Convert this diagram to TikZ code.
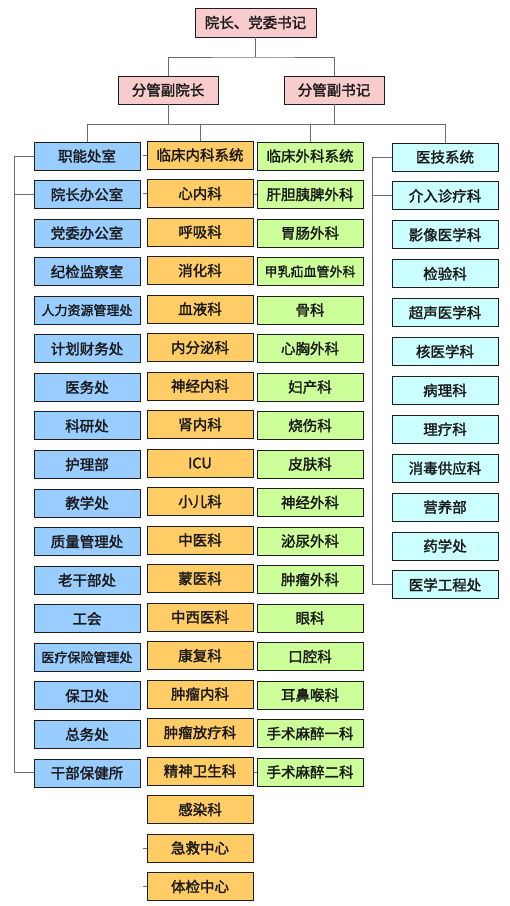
\documentclass[tikz,border=0pt]{standalone}
\usepackage{fontspec}
\newfontfamily\cjk{Noto Sans CJK SC}[FakeBold=1.8]
\newcommand\smallbox{\fontsize{13}{13}\selectfont}
\definecolor{pinkc}{RGB}{248,204,204}
\definecolor{bluec}{RGB}{153,204,255}
\definecolor{orangec}{RGB}{255,204,102}
\definecolor{greenc}{RGB}{204,255,153}
\definecolor{cyanc}{RGB}{204,255,255}
\definecolor{linec}{RGB}{110,110,110}
\definecolor{bordc}{RGB}{30,30,30}
\tikzset{
  box/.style={draw=bordc, line width=0.9pt, minimum width=106pt, minimum height=28pt,
    inner sep=0pt, text=black!90, font=\cjk\fontsize{14.5}{14.5}\selectfont},
  topbox/.style={box, fill=pinkc, minimum width=100pt},
  bluebox/.style={box, fill=bluec},
  orangebox/.style={box, fill=orangec},
  greenbox/.style={box, fill=greenc},
  cyanbox/.style={box, fill=cyanc},
  conn/.style={draw=linec, line width=1pt},
}
\begin{document}
\begin{tikzpicture}[x=1pt,y=-1pt]
\useasboundingbox[fill=white] (0,0) rectangle (510,906);

\node[topbox, minimum width=121pt, minimum height=29pt] (top) at (255.5,22.5) {院长、党委书记};
\node[topbox] (fy) at (168,90) {分管副院长};
\node[topbox] (fs) at (334,90) {分管副书记};

\coordinate (j1) at (255.5,57);
\coordinate (j2) at (255.5,124);
\coordinate (lb) at (14,0);
\coordinate (rb) at (372,0);

% blue column
\foreach \t [count=\i from 0] in {职能处室,院长办公室,党委办公室,纪检监察室,{\smallbox 人力资源管理处},计划财务处,医务处,科研处,护理部,教学处,质量管理处,老干部处,工会,{\smallbox 医疗保险管理处},保卫处,总务处,干部保健所}{
  \node[bluebox] (b\i) at (87,{156+38.56*\i}) {\t};
}
% orange column
\foreach \t [count=\i from 0] in {临床内科系统,心内科,呼吸科,消化科,血液科,内分泌科,神经内科,肾内科,ICU,小儿科,中医科,蒙医科,中西医科,康复科,肿瘤内科,肿瘤放疗科,精神卫生科,感染科,急救中心,体检中心}{
  \node[orangebox] (o\i) at (200,{155+38.5*\i}) {\t};
}
% green column
\foreach \t [count=\i from 0] in {临床外科系统,肝胆胰脾外科,胃肠外科,{\smallbox 甲乳疝血管外科},骨科,心胸外科,妇产科,烧伤科,皮肤科,神经外科,泌尿外科,肿瘤外科,眼科,口腔科,耳鼻喉科,手术麻醉一科,手术麻醉二科}{
  \node[greenbox] (g\i) at (310,{156+38.5*\i}) {\t};
}
% cyan column
\foreach \t [count=\i from 0] in {医技系统,介入诊疗科,影像医学科,检验科,超声医学科,核医学科,病理科,理疗科,消毒供应科,营养部,药学处,医学工程处}{
  \node[cyanbox] (c\i) at (445,{157+38.9*\i}) {\t};
}

% top connectors
\draw[conn] (top.south) -- (j1);
\draw[conn] (fy.north) |- (j1) -| (fs.north);
\draw[conn] (fy.south) -- (fy.south |- j2);
\draw[conn] (fs.south) -- (fs.south |- j2);
\draw[conn] (b0.north) -- (b0.north |- j2) -- (c0.north |- j2) -- (c0.north);
\draw[conn] (o0.north |- j2) -- (o0.north);
\draw[conn] (g0.north |- j2) -- (g0.north);

% left bracket
\draw[conn] (b0.west) -- (b0.west -| lb) -- (b16.west -| lb) -- (b16.west);
\draw[conn] (b1.west) -- (b1.west -| lb);
% right bracket
\draw[conn] (c0.west) -- (c0.west -| rb) -- (c11.west -| rb) -- (c11.west);
\draw[conn] (c1.west) -- (c1.west -| rb);

% short stubs
\foreach \n in {o0,o1,o18,o19}{ \draw[conn] (\n.west) -- ++(-4,0); }
\foreach \n in {g1,g16}{ \draw[conn] (\n.west) -- ++(-3,0); }
\end{tikzpicture}
\end{document}
